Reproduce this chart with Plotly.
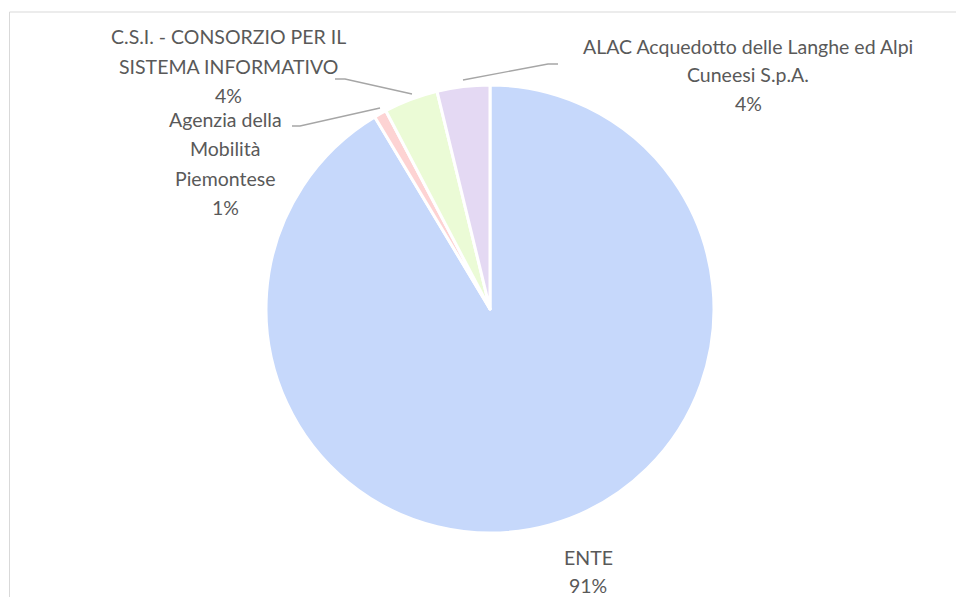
import plotly.graph_objects as go

# ---- data ----
labels = ["ENTE", "Agenzia della Mobilità Piemontese",
          "C.S.I. - CONSORZIO PER IL SISTEMA INFORMATIVO",
          "ALAC Acquedotto delle Langhe ed Alpi Cuneesi S.p.A."]
label_lines = [["ENTE"], ["Agenzia della", "Mobilità", "Piemontese"],
               ["C.S.I. - CONSORZIO PER IL", "SISTEMA INFORMATIVO"],
               ["ALAC Acquedotto delle Langhe ed Alpi", "Cuneesi S.p.A."]]
values = [91.4, 0.9, 3.9, 3.8]
colors = ["#c6d8fb", "#fdd3d3", "#ebfbd6", "#e4d9f3"]

W, H = 956, 597
cx, cy, r = 490, 309, 224

fig = go.Figure(go.Pie(
    labels=labels, values=values, sort=False, direction="clockwise", rotation=0,
    marker=dict(colors=colors, line=dict(color="white", width=3)),
    textinfo="none", hoverinfo="label+percent",
    domain=dict(x=[(cx - r) / W, (cx + r) / W], y=[1 - (cy + r) / H, 1 - (cy - r) / H]),
    showlegend=False,
))

total = sum(values)
# label block: centre x and first-line y (px), line spacing
label_pos = [(588, 557), (225, 119.5), (228, 37), (748, 46)]
line_gap = [28, 29.3, 29.3, 28.5]
leaders = [None,
           [(292, 126), (300, 126), (380, 108)],
           [(335, 79), (345, 79), (412, 94)],
           [(463, 80), (548, 64), (558, 64)]]

annotations = []
shapes = []
for i, lines in enumerate(label_lines):
    pct = round(values[i] / total * 100)
    x, y0 = label_pos[i]
    for k, txt in enumerate(lines + [f"{pct}%"]):
        annotations.append(dict(
            x=x / W, y=1 - (y0 + k * line_gap[i]) / H, xref="paper", yref="paper", showarrow=False,
            text=txt, align="center", xanchor="center", yanchor="middle",
            font=dict(family="Lato, Carlito, Calibri, sans-serif", size=19.5, color="#595959"),
        ))
    if leaders[i]:
        pts = leaders[i]
        path = "M " + " L ".join(f"{px / W} {1 - py / H}" for px, py in pts)
        shapes.append(dict(type="path", xref="paper", yref="paper", path=path,
                           line=dict(color="#a6a6a6", width=1.3)))

# chart area border
shapes.append(dict(type="rect", xref="paper", yref="paper",
                   x0=9.5 / W, y0=-0.02, x1=1.02, y1=1 - 12 / H,
                   line=dict(color="#d9d9d9", width=1), fillcolor="rgba(0,0,0,0)", layer="below"))

fig.update_layout(
    width=W, height=H, margin=dict(l=0, r=0, t=0, b=0),
    paper_bgcolor="white", plot_bgcolor="white",
    annotations=annotations, shapes=shapes,
)

fig.write_html("out.html", config={"displayModeBar": False},
               post_script="document.body.style.margin='0';document.body.style.overflow='hidden';")
